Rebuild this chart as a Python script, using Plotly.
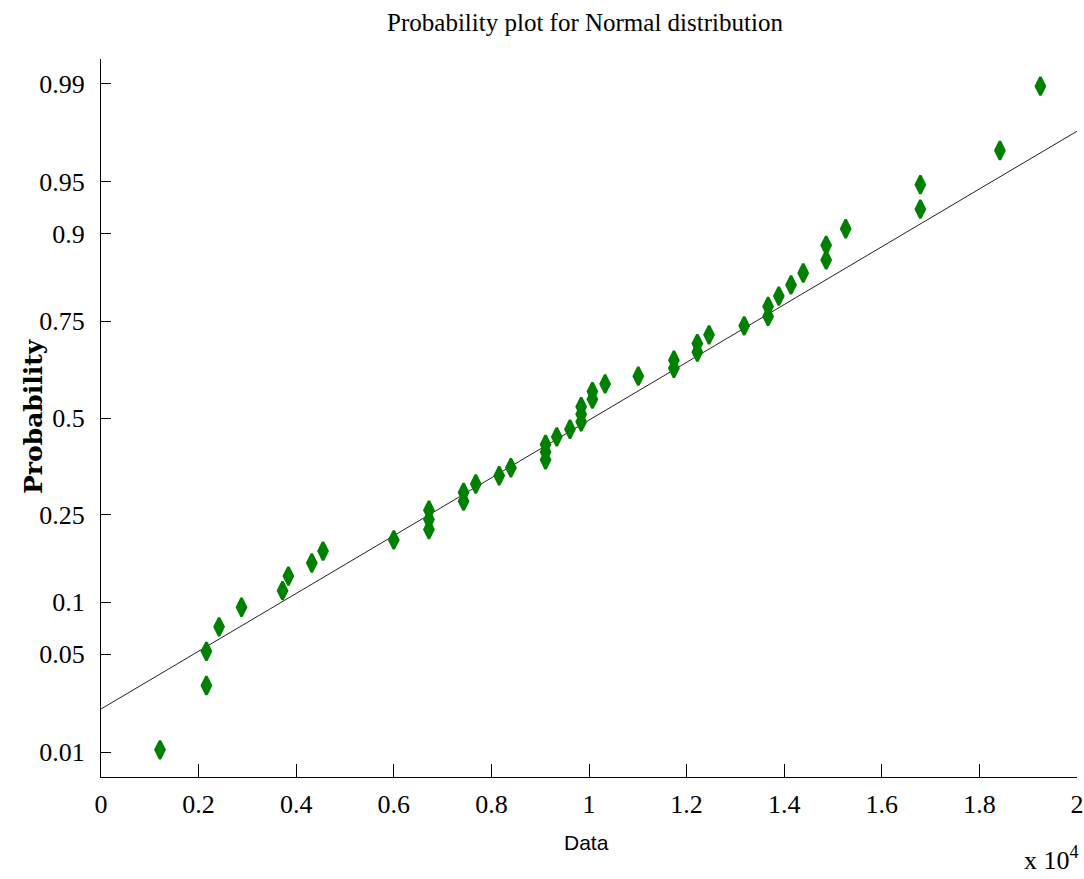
import numpy as np
import plotly.graph_objects as go
from statistics import NormalDist

# ---- data ----
data_values = [1209, 2160, 2160, 2420, 2880, 3720, 3840, 4320, 4550, 6000,
               6720, 6720, 6720, 7430, 7430, 7680, 8160, 8400, 9110, 9110,
               9110, 9340, 9610, 9840, 9840, 9840, 10070, 10070, 10330, 11010,
               11740, 11740, 12220, 12220, 12460, 13180, 13670, 13670, 13890, 14140,
               14390, 14860, 14860, 15260, 16790, 16790, 18420, 19250]
prob_ticks = [0.01, 0.05, 0.1, 0.25, 0.5, 0.75, 0.9, 0.95, 0.99]
prob_tick_labels = ["0.01", "0.05", "0.1", "0.25", "0.5", "0.75", "0.9", "0.95", "0.99"]
x_tick_vals = [0, 2000, 4000, 6000, 8000, 10000, 12000, 14000, 16000, 18000, 20000]
x_tick_labels = ["0", "0.2", "0.4", "0.6", "0.8", "1", "1.2", "1.4", "1.6", "1.8", "2"]

nd = NormalDist()
x_sorted = np.sort(np.array(data_values, dtype=float))
n = len(x_sorted)
# normal probability plot positions (rank based, as in normplot)
probs = [(i - 0.5) / n for i in range(1, n + 1)]
z_points = [nd.inv_cdf(p) for p in probs]

# reference line through the quartiles
q1, q3 = np.percentile(x_sorted, [25, 75], method="hazen")
z1, z3 = nd.inv_cdf(0.25), nd.inv_cdf(0.75)
slope = (z3 - z1) / (q3 - q1)
line_x = [x_tick_vals[0], x_tick_vals[-1]]
line_z = [z1 + slope * (lx - q1) for lx in line_x]

fig = go.Figure()
fig.add_trace(go.Scatter(x=line_x, y=line_z, mode="lines",
                         line=dict(color="#222222", width=1), showlegend=False,
                         hoverinfo="skip"))
fig.add_trace(go.Scatter(x=x_sorted, y=z_points, mode="markers",
                         marker=dict(symbol="diamond-tall", size=13, color="#008000",
                                     line=dict(color="#008000", width=2.5)),
                         showlegend=False))

serif = "Liberation Serif, Times New Roman, serif"
fig.update_layout(
    width=1084, height=879,
    paper_bgcolor="white", plot_bgcolor="white",
    margin=dict(l=101, r=7, t=59, b=102),
    title=dict(text="Probability plot for Normal distribution",
               font=dict(family=serif, size=25, color="black"),
               x=585 / 1084, xanchor="center",
               y=1 - 22 / 879, yanchor="middle", yref="container"),
    xaxis=dict(range=[0, 20000], tickvals=x_tick_vals, ticktext=x_tick_labels,
               showgrid=False, zeroline=False, showline=True, linecolor="black",
               linewidth=1, ticks="inside", ticklen=13, tickcolor="black",
               tickfont=dict(family=serif, size=26, color="black"),
               ticklabelstandoff=4, automargin=False),
    yaxis=dict(range=[-2.5, 2.5], tickvals=[nd.inv_cdf(p) for p in prob_ticks],
               ticktext=prob_tick_labels,
               showgrid=False, zeroline=False, showline=True, linecolor="black",
               linewidth=1, ticks="inside", ticklen=10, tickcolor="black",
               tickfont=dict(family=serif, size=26, color="black"),
               ticklabelstandoff=10, automargin=False),
    annotations=[
        dict(text="Data", xref="paper", yref="paper", x=(586 - 101) / 976,
             y=(777 - 842) / 718, showarrow=False, xanchor="center", yanchor="middle",
             font=dict(family="Liberation Sans, Arial, sans-serif", size=21, color="black")),
        dict(text="<b>Probability</b>", xref="paper", yref="paper", x=(33 - 101) / 976,
             y=(777 - 416) / 718, showarrow=False, textangle=-90,
             xanchor="center", yanchor="middle",
             font=dict(family="DejaVu Serif, serif", size=25, color="black")),
        dict(text="x 10<sup>4</sup>", xref="paper", yref="paper", x=(1081 - 101) / 976,
             y=(777 - 858) / 718, showarrow=False, xanchor="right", yanchor="middle",
             font=dict(family=serif, size=26, color="black")),
    ],
)

fig.write_html("out.html", config={"displayModeBar": False},
               post_script="document.body.style.margin='0';document.body.style.padding='0';")
